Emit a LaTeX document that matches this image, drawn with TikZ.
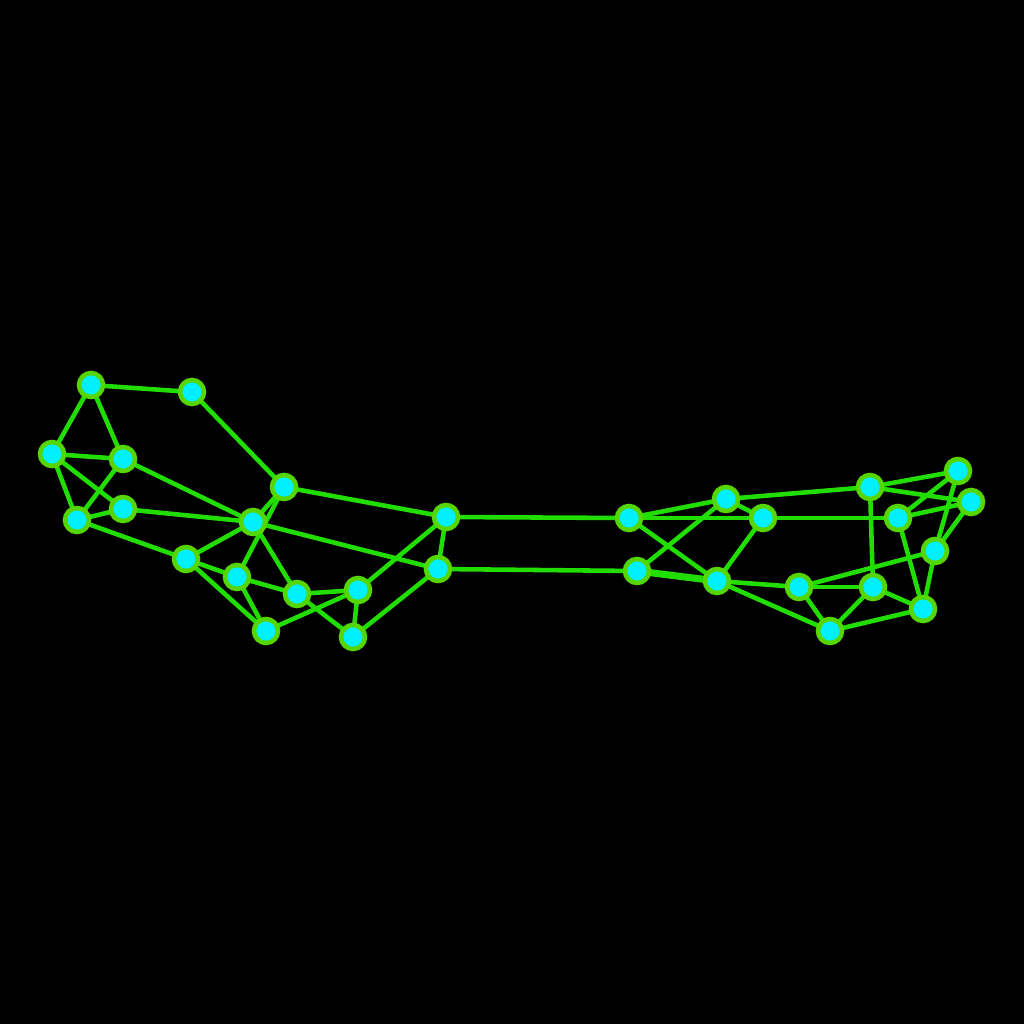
\documentclass[tikz,border=0pt]{standalone}
\begin{document}
\begin{tikzpicture}[x=0.02cm,y=-0.02cm,
  vtx/.style={circle,draw=vborder,fill=vfill,line width=2.6pt,minimum size=0.48cm,inner sep=0pt},
  edge/.style={draw=ecol,line width=2.6pt},
  thickedge/.style={draw=ecol,line width=4pt}]
\definecolor{vborder}{RGB}{85,214,0}
\definecolor{vfill}{RGB}{0,240,255}
\definecolor{ecol}{RGB}{34,221,0}
\fill[black] (0,0) rectangle (1024,1024);
\useasboundingbox (0,0) rectangle (1024,1024);
% left cluster
\coordinate (pA1) at (91,385);
\coordinate (pA2) at (192,392);
\coordinate (pA3) at (52,454);
\coordinate (pA4) at (123,459);
\coordinate (pA5) at (123,509);
\coordinate (pA6) at (77,520);
\coordinate (pA7) at (284,487);
\coordinate (pA8) at (253,522);
\coordinate (pA9) at (186,559);
\coordinate (pA10) at (237,577);
\coordinate (pA11) at (297,594);
\coordinate (pA12) at (358,590);
\coordinate (pA13) at (266,631);
\coordinate (pA14) at (353,637);
\coordinate (pA15) at (446,517);
\coordinate (pA16) at (438,569);
% right cluster
\coordinate (pB1) at (629,518);
\coordinate (pB2) at (637,571);
\coordinate (pB3) at (726,499);
\coordinate (pB4) at (763,518);
\coordinate (pB5) at (717,581);
\coordinate (pB6) at (799,587);
\coordinate (pB7) at (830,631);
\coordinate (pB8) at (870,487);
\coordinate (pB9) at (898,518);
\coordinate (pB10) at (958,471);
\coordinate (pB11) at (971,502);
\coordinate (pB12) at (935,551);
\coordinate (pB13) at (873,587);
\coordinate (pB14) at (923,609);
% edges
\foreach \a/\b in {A1/A2,A1/A3,A1/A4,A2/A7,A3/A4,A3/A6,A3/A5,A4/A6,A4/A8,A5/A6,A5/A8,A6/A9,
  A7/A8,A7/A10,A9/A8,A8/A11,A8/A16,A9/A10,A9/A13,A10/A11,A10/A13,A11/A12,A11/A14,A12/A13,
  A12/A14,A12/A15,A14/A16,A15/A16,A7/A15,A15/B1,A16/B2,
  B1/B3,B1/B4,B1/B5,B2/B3,B3/B4,B3/B8,B4/B5,B4/B9,B5/B6,B5/B7,B6/B7,B6/B13,B6/B12,
  B7/B13,B7/B14,B8/B10,B8/B11,B8/B13,B9/B10,B9/B11,B9/B14,B10/B12,B11/B12,B12/B14,B13/B14}
  \draw[edge] (p\a) -- (p\b);
\draw[thickedge] (pB2) -- (pB5);
% nodes
\foreach \n in {A1,A2,A3,A4,A5,A6,A7,A8,A9,A10,A11,A12,A13,A14,A15,A16,
  B1,B2,B3,B4,B5,B6,B7,B8,B9,B10,B11,B12,B13,B14}
  \node[vtx] (\n) at (p\n) {};
\end{tikzpicture}
\end{document}
